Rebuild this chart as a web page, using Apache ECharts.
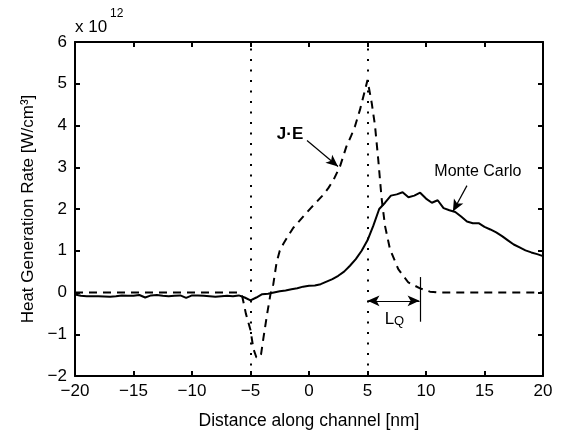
<!DOCTYPE html>
<html><head><meta charset="utf-8">
<script src="https://cdn.jsdelivr.net/npm/echarts@6/dist/echarts.min.js"></script>
<style>html,body{margin:0;padding:0;background:#fff}#c{width:566px;height:435px}</style>
</head><body><div id="c"></div>
<script>
// Monte Carlo (solid)
const mcX = [-20,-19.5,-19,-18,-17,-16.5,-16,-15.5,-15,-14.5,-14,-13.5,-13,-12.5,-12,-11.5,-11,-10.5,-10,-9.5,-9,-8.5,-8,-7.5,-7,-6.5,-6,-5.5,-5,-4.5,-4,-3.5,-3,-2.5,-2,-1.5,-1,-0.5,0,0.5,1,1.5,2,2.5,3,3.5,4,4.5,5,5.5,6,6.5,7,7.5,8,8.5,9,9.5,10,10.5,11,11.5,12,12.5,13,13.5,14,14.5,15,15.5,16,16.5,17,17.5,18,18.5,19,19.5,20];
const mcY = [-0.05,-0.08,-0.09,-0.09,-0.1,-0.09,-0.07,-0.08,-0.08,-0.06,-0.12,-0.07,-0.06,-0.08,-0.09,-0.08,-0.07,-0.13,-0.07,-0.07,-0.08,-0.09,-0.1,-0.09,-0.08,-0.09,-0.07,-0.12,-0.19,-0.12,-0.04,-0.03,0.0,0.03,0.05,0.08,0.1,0.14,0.16,0.17,0.2,0.26,0.32,0.4,0.5,0.64,0.8,1.0,1.25,1.6,2.0,2.15,2.32,2.35,2.4,2.28,2.32,2.39,2.25,2.15,2.21,2.02,1.97,1.93,1.82,1.7,1.66,1.66,1.57,1.51,1.44,1.35,1.25,1.15,1.08,1.01,0.96,0.92,0.87];
// J·E (dashed)
const jeX = [-20,-15,-10,-6,-5.7,-5.4,-5.0,-4.75,-4.5,-4.3,-4.1,-3.9,-3.6,-3.3,-3.05,-2.77,-2.5,-2.2,-1.8,-1.34,-0.8,-0.34,0.15,0.65,1.15,1.65,2.1,2.65,3.2,3.6,3.93,4.36,4.79,5.0,5.36,5.64,5.92,6.2,6.5,6.92,7.63,8.49,9.49,10.34,11,15,20];
const jeY = [0,0,0,0,-0.1,-0.5,-0.9,-1.35,-1.55,-1.57,-1.48,-1.1,-0.55,-0.05,0.2,0.72,1.0,1.16,1.35,1.55,1.72,1.87,2.02,2.17,2.32,2.5,2.7,3.02,3.5,3.75,3.98,4.38,4.85,5.09,4.54,4.0,3.18,2.27,1.59,1.04,0.56,0.24,0.1,0.02,0,0,0];
const xTicks = [-20,-15,-10,-5,0,5,10,15,20];
const yTicks = [-2,-1,0,1,2,3,4,5,6];
const channelEdges = [-5, 5];

const FONT = 'Liberation Sans, Arial, Helvetica, sans-serif';
const pair = (xs, ys) => xs.map((x, i) => [x, ys[i]]);
const minusFmt = v => String(v).replace('-', '\u2212');

const chart = echarts.init(document.getElementById('c'), null, {renderer: 'canvas'});
const axisCommon = {
  type: 'value',
  axisLine: {show: true, onZero: false, lineStyle: {color: '#000', width: 2}},
  axisTick: {show: true, inside: true, length: 5, lineStyle: {color: '#000', width: 2}},
  splitLine: {show: false},
  axisLabel: {color: '#000', fontSize: 17, fontFamily: FONT, formatter: minusFmt}
};
const arrowLine = (a, b, sym) => [
  {coord: a, symbol: sym[0]},
  {coord: b, symbol: sym[1]}
];
chart.setOption({
  animation: false,
  backgroundColor: '#fff',
  textStyle: {fontFamily: FONT},
  grid: {left: 75, right: 23, top: 42, bottom: 58, containLabel: false},
  xAxis: [
    Object.assign({}, axisCommon, {
      min: xTicks[0], max: xTicks[xTicks.length - 1], interval: 5,
      name: 'Distance along channel [nm]', nameLocation: 'middle', nameGap: 36,
      nameTextStyle: {color: '#000', fontSize: 17.5, fontFamily: FONT},
      axisLabel: Object.assign({}, axisCommon.axisLabel, {margin: 7})
    }),
    Object.assign({}, axisCommon, {
      position: 'top', min: xTicks[0], max: xTicks[xTicks.length - 1], interval: 5,
      axisLabel: {show: false}
    })
  ],
  yAxis: [
    Object.assign({}, axisCommon, {
      min: yTicks[0], max: yTicks[yTicks.length - 1], interval: 1,
      name: 'Heat Generation Rate [W/cm\u00b3]', nameLocation: 'middle', nameGap: 38,
      nameTextStyle: {color: '#000', fontSize: 17, fontFamily: FONT},
      axisLabel: Object.assign({}, axisCommon.axisLabel, {margin: 8})
    }),
    Object.assign({}, axisCommon, {
      position: 'right', min: yTicks[0], max: yTicks[yTicks.length - 1], interval: 1,
      axisLabel: {show: false}
    })
  ],
  graphic: [
    {type: 'text', left: 75, top: 19, style: {text: 'x 10', font: '17px ' + FONT, fill: '#000'}},
    {type: 'text', left: 110, top: 8, style: {text: '12', font: '12px ' + FONT, fill: '#000'}}
  ],
  series: [
    {
      name: 'J·E', type: 'line', data: pair(jeX, jeY), showSymbol: false, symbol: 'none',
      lineStyle: {color: '#000', width: 2, type: [8, 6]},
      markLine: {
        silent: true, symbol: ['none', 'none'], label: {show: false},
        lineStyle: {color: '#000', width: 2, type: [2, 8.5]},
        data: channelEdges.map(v => ({xAxis: v}))
      }
    },
    {
      name: 'Monte Carlo', type: 'line', data: pair(mcX, mcY), showSymbol: false, symbol: 'none',
      lineStyle: {color: '#000', width: 2},
      markLine: {
        silent: true, label: {show: false}, symbolSize: [8, 12],
        lineStyle: {color: '#000', width: 1.2, type: 'solid'},
        data: [
          arrowLine([-0.17, 3.64], [2.48, 3.02], ['none', 'arrow']),
          arrowLine([13.5, 2.56], [12.3, 1.94], ['none', 'arrow']),
          arrowLine([5, -0.2], [9.45, -0.2], ['arrow', 'arrow']),
          arrowLine([9.5, 0.37], [9.5, -0.7], ['none', 'none'])
        ]
      },
      markPoint: {
        silent: true, symbol: 'circle', symbolSize: 0,
        label: {show: true, position: 'inside', color: '#000', fontFamily: FONT, fontSize: 15},
        data: [
          {coord: [-1.62, 3.78], label: {formatter: 'J\u00b7E', fontWeight: 'bold', fontSize: 17}},
          {coord: [14.44, 2.9], label: {formatter: 'Monte Carlo', fontSize: 16}},
          {coord: [7.3, -0.6], label: {formatter: '{l|L}{q|Q}', rich: {
            l: {fontSize: 17, fontFamily: FONT, color: '#000', verticalAlign: 'bottom'},
            q: {fontSize: 13, fontFamily: FONT, color: '#000', padding: [8, 0, 0, 0], verticalAlign: 'bottom'}
          }}}
        ]
      }
    }
  ]
});
</script></body></html>
